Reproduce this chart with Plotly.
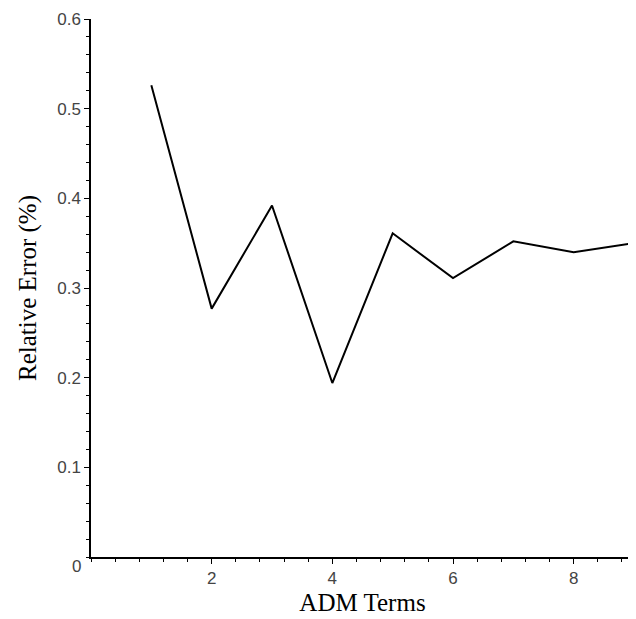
import plotly.graph_objects as go

adm_terms = [1, 2, 3, 4, 5, 6, 7, 8, 9]
relative_error = [0.526, 0.277, 0.392, 0.194, 0.361, 0.311, 0.352, 0.340, 0.350]

x_ticks = [2, 4, 6, 8]
y_ticks = [0.1, 0.2, 0.3, 0.4, 0.5, 0.6]

fig = go.Figure()
fig.add_trace(go.Scatter(
    x=adm_terms, y=relative_error, mode="lines", cliponaxis=False,
    line=dict(color="black", width=2), showlegend=False, hoverinfo="skip"))

tick_font = dict(family="Liberation Sans, Arial, sans-serif", size=17, color="#444")
title_font = dict(family="Liberation Serif, Times New Roman, serif", size=25, color="black")

# page body has an 8px margin, so the plot area is shifted by 8px to compensate
fig.update_layout(
    width=636, height=619,
    margin=dict(l=83, r=10, t=11, b=70, autoexpand=False),
    paper_bgcolor="white", plot_bgcolor="white",
    xaxis=dict(
        range=[0, 9], tickvals=x_ticks, ticktext=[str(v) for v in x_ticks],
        showgrid=False, zeroline=False, showline=True, linecolor="black", linewidth=1.5,
        ticks="outside", ticklen=5, tickwidth=1, tickcolor="black",
        minor=dict(dtick=0.4, tick0=0, ticks="outside", ticklen=3, tickcolor="black", showgrid=False),
        tickfont=tick_font,
        title=dict(text="ADM Terms", font=title_font, standoff=6),
    ),
    yaxis=dict(
        range=[0, 0.6], tickvals=y_ticks, ticktext=[f"{v:.1f}" for v in y_ticks],
        showgrid=False, zeroline=False, showline=True, linecolor="black", linewidth=1.5,
        ticks="outside", ticklen=5, tickwidth=1, tickcolor="black",
        minor=dict(dtick=0.02, tick0=0, ticks="outside", ticklen=3, tickcolor="black", showgrid=False),
        tickfont=tick_font,
        title=dict(text="Relative Error (%)", font=title_font, standoff=13),
    ),
)

fig.add_annotation(x=0, y=0, xref="paper", yref="paper", text="0", showarrow=False,
                   xanchor="right", yanchor="middle", xshift=-8, yshift=-9, font=tick_font)

fig.write_html("out.html")
